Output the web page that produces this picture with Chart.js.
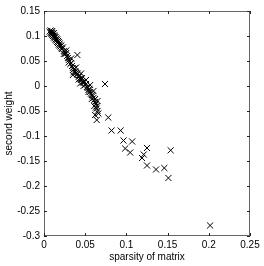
<!DOCTYPE html>
<html>
<head>
<meta charset="utf-8">
<script src="https://cdn.jsdelivr.net/npm/chart.js@4.4.0/dist/chart.umd.min.js"></script>
<style>
  html, body { margin: 0; padding: 0; background: #fff; }
  canvas { display: block; }
</style>
</head>
<body>
<canvas id="myChart" width="264" height="266"></canvas>
<script>
// sparsity of matrix (x) and second weight (y)
const sparsity = [
    0.007, 0.008, 0.008, 0.009, 0.009, 0.010, 0.010, 0.010, 0.011, 0.011,
    0.012, 0.012, 0.012, 0.013, 0.013, 0.014, 0.014, 0.015, 0.015, 0.016,
    0.016, 0.017, 0.017, 0.018, 0.018, 0.019, 0.019, 0.020, 0.021, 0.021,
    0.022, 0.023, 0.024, 0.025, 0.026, 0.027, 0.028, 0.029, 0.030, 0.031,
    0.032, 0.033, 0.034, 0.035, 0.036, 0.037, 0.038, 0.039, 0.040, 0.041,
    0.042, 0.043, 0.044, 0.045, 0.046, 0.047, 0.048, 0.049, 0.050, 0.051,
    0.052, 0.053, 0.054, 0.055, 0.056, 0.057, 0.058, 0.059, 0.060, 0.061,
    0.062, 0.062, 0.063, 0.064, 0.064, 0.065, 0.062, 0.064,
    0.024, 0.027, 0.030, 0.033, 0.036, 0.039, 0.042, 0.045, 0.048, 0.051,
    0.054, 0.056, 0.058, 0.060, 0.063, 0.065, 0.066, 0.061, 0.035, 0.044,
    0.0405, 0.074, 0.078, 0.082, 0.093, 0.0965, 0.107, 0.0985, 0.1046,
    0.125, 0.121, 0.119, 0.125, 0.136, 0.146, 0.151, 0.1537, 0.2016
];
const secondWeight = [
    0.109, 0.106, 0.111, 0.104, 0.108, 0.102, 0.106, 0.110, 0.100, 0.104,
    0.097, 0.101, 0.106, 0.096, 0.100, 0.093, 0.098, 0.091, 0.095, 0.088,
    0.093, 0.086, 0.090, 0.083, 0.088, 0.081, 0.085, 0.079, 0.076, 0.081,
    0.074, 0.077, 0.070, 0.068, 0.064, 0.066, 0.060, 0.056, 0.052, 0.049,
    0.044, 0.046, 0.040, 0.036, 0.033, 0.035, 0.029, 0.026, 0.023, 0.025,
    0.018, 0.021, 0.015, 0.012, 0.016, 0.008, 0.006, 0.009, 0.002, 0.004,
    -0.002, -0.004, -0.008, -0.006, -0.012, -0.015, -0.018, -0.020, -0.024, -0.028,
    -0.032, -0.026, -0.036, -0.040, -0.045, -0.050, -0.058, -0.068,
    0.064, 0.071, 0.047, 0.055, 0.028, 0.037, 0.013, 0.025, 0.000, 0.012,
    -0.012, 0.002, -0.026, -0.010, -0.043, -0.030, -0.055, -0.040, 0.022, 0.005,
    0.062, 0.004, -0.063, -0.089, -0.089, -0.109, -0.111, -0.125, -0.133,
    -0.124, -0.137, -0.144, -0.159, -0.167, -0.164, -0.184, -0.1286, -0.279
];

const xTicks = [0, 0.05, 0.1, 0.15, 0.2, 0.25];
const yTicks = [-0.3, -0.25, -0.2, -0.15, -0.1, -0.05, 0, 0.05, 0.1, 0.15];

const points = sparsity.map((x, i) => ({ x: x, y: secondWeight[i] }));

// box around the plot with small ticks pointing inward
const boxPlugin = {
    id: "box",
    afterDraw: (chart) => {
        const ctx = chart.ctx;
        const a = chart.chartArea;
        const xs = chart.scales.x;
        const ys = chart.scales.y;
        ctx.save();
        ctx.strokeStyle = "#666";
        ctx.lineWidth = 1;
        ctx.strokeRect(a.left + 0.5, a.top + 0.5, a.right - a.left - 1, a.bottom - a.top - 1);
        ctx.strokeStyle = "#222";
        ctx.beginPath();
        xTicks.forEach((t) => {
            const px = Math.round(xs.getPixelForValue(t)) + 0.5;
            ctx.moveTo(px, a.bottom);
            ctx.lineTo(px, a.bottom - 3);
            ctx.moveTo(px, a.top);
            ctx.lineTo(px, a.top + 3);
        });
        yTicks.forEach((t) => {
            const py = Math.round(ys.getPixelForValue(t)) + 0.5;
            ctx.moveTo(a.left, py);
            ctx.lineTo(a.left + 3, py);
            ctx.moveTo(a.right, py);
            ctx.lineTo(a.right - 3, py);
        });
        ctx.stroke();
        ctx.restore();
    },
};

const tickFont = { family: "Liberation Sans, Arial, sans-serif", size: 10 };

const ctx = document.getElementById("myChart").getContext("2d");
const myChart = new Chart(ctx, {
    type: "scatter",
    data: {
        datasets: [
            {
                data: points,
                pointStyle: "crossRot",
                pointRadius: 4.3,
                borderColor: "#000",
                borderWidth: 1,
            },
        ],
    },
    options: {
        responsive: false,
        animation: false,
        events: [],
        layout: { padding: { top: 11, right: 14, left: 0, bottom: 0 } },
        plugins: { legend: { display: false }, tooltip: { enabled: false } },
        scales: {
            x: {
                type: "linear",
                min: 0,
                max: 0.25,
                afterBuildTicks: (scale) => {
                    scale.ticks = xTicks.map((v) => ({ value: v }));
                },
                afterFit: (scale) => {
                    scale.height = 30;
                },
                ticks: {
                    color: "#000",
                    font: tickFont,
                    padding: 3,
                    maxRotation: 0,
                    callback: (v) => String(parseFloat(v.toFixed(2))),
                },
                grid: { display: false, drawTicks: false },
                border: { display: false },
                title: {
                    display: true,
                    text: "sparsity of matrix",
                    color: "#000",
                    font: tickFont,
                    padding: { top: 0, bottom: 3 },
                },
            },
            y: {
                type: "linear",
                min: -0.3,
                max: 0.15,
                afterBuildTicks: (scale) => {
                    scale.ticks = yTicks.map((v) => ({ value: v }));
                },
                afterFit: (scale) => {
                    scale.width = 44;
                },
                ticks: {
                    color: "#000",
                    font: tickFont,
                    padding: 4,
                    callback: (v) => String(parseFloat(v.toFixed(2))),
                },
                grid: { display: false, drawTicks: false },
                border: { display: false },
                title: {
                    display: true,
                    text: "second weight",
                    color: "#000",
                    font: tickFont,
                    padding: { top: 3, bottom: 0 },
                },
            },
        },
    },
    plugins: [boxPlugin],
});
</script>
</body>
</html>
